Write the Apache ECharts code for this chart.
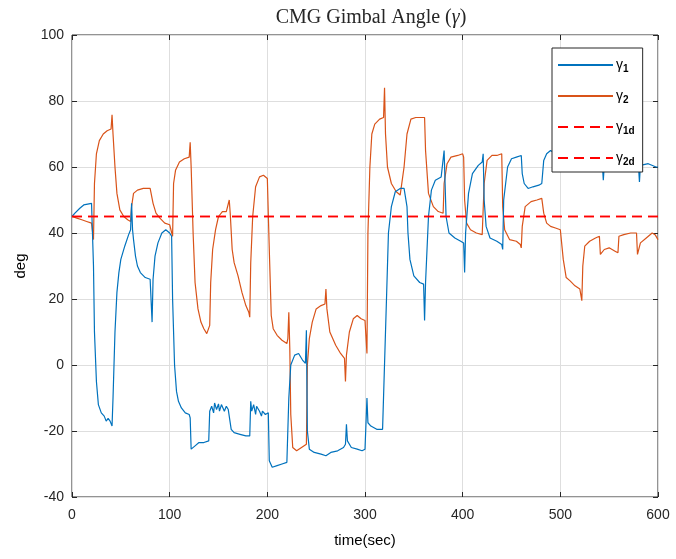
<!DOCTYPE html>
<html>
  <head>
    <meta charset="utf-8" />
    <title>CMG Gimbal Angle</title>
    <script src="https://cdn.jsdelivr.net/npm/echarts@6/dist/echarts.min.js"></script>
    <style>
      html, body { margin: 0; padding: 0; background: #fff; }
      #main { width: 676px; height: 559px; }
    </style>
  </head>
  <body>
    <div id="main"></div>
    <script type="text/javascript">
      // axis ticks
      var xTicks = [0, 100, 200, 300, 400, 500, 600];
      var yTicks = [-40, -20, 0, 20, 40, 60, 80, 100];

      // gamma_1
      var g1Time = [0, 3, 8, 12, 20, 21, 22, 23, 25, 27, 30, 33, 35, 37, 39, 40, 41, 42, 44, 46, 48, 50, 54, 58, 60, 61, 62, 63, 65, 67, 70, 75, 80, 81, 82, 83, 85, 88, 92, 96, 100, 102, 103, 105, 107, 109, 112, 116, 120, 121, 122, 126, 130, 135, 140, 141, 143, 145, 146, 148, 150, 151, 153, 155, 156, 158, 160, 162, 163, 166, 172, 178, 182, 183, 184, 186, 188, 189, 192, 194, 195, 198, 201, 202, 205, 210, 215, 220, 221, 222, 224, 228, 232, 236, 239, 240, 241, 243, 248, 255, 260, 265, 272, 278, 280, 281, 282, 286, 292, 297, 300, 302, 303, 306, 312, 318, 320, 322, 324, 327, 331, 336, 340, 342, 343, 344, 346, 350, 356, 360, 361, 362, 365, 368, 372, 378, 380, 381, 382, 383, 386, 392, 398, 401, 402, 403, 406, 410, 416, 420, 421, 422, 424, 428, 435, 440, 441, 442, 446, 450, 455, 460, 461, 463, 467, 472, 478, 481, 483, 486, 490, 495, 500, 510, 520, 530, 543, 544, 545, 560, 580, 581, 582, 590, 598, 600];
      var g1Deg = [45, 46, 47.5, 48.5, 49, 48.8, 30, 10, -5, -12, -14.5, -15.5, -17, -16.2, -17, -16.5, -18.5, -10, 10, 22, 28, 32, 36, 39.5, 41, 49, 41, 38, 33, 30, 28, 26.5, 26, 26.5, 13, 26, 33, 37, 40, 41, 40, 39, 20, 0, -8, -11, -13, -14.5, -15, -16, -25.5, -24.5, -23.5, -23.5, -23, -14, -12.5, -14.5, -11.5, -13.5, -11.8, -14, -12, -11.5, -14, -12.5, -13.5, -13, -19.5, -20.5, -21, -21.5, -21.5, -11, -14, -12, -15, -12.5, -14, -15.5, -14, -15, -14.5, -29, -31, -30.5, -30, -29.5, -30, -10, 0, 3, 3.5, 1.5, 0.5, 10.5, -20, -25.5, -26.5, -27, -27.5, -26.5, -26, -25, -24, -18, -23, -25, -25.5, -26, -25.5, -10, -17.5, -18.5, -19.5, -19.5, -19.5, 20, 40, 48, 52.5, 53.5, 53.5, 53, 48, 40, 32, 27, 25, 24.5, 13.5, 25, 45, 53, 56, 57, 57.5, 65, 55, 45, 40, 38.5, 37.5, 37, 28, 40, 52, 58, 60.5, 61.5, 64, 50, 42, 38.5, 37.5, 36.5, 35, 50, 60, 62.5, 63, 63.5, 58, 55, 53.5, 54, 54.5, 55, 62, 64, 65, 64, 63, 62, 61.5, 61, 61, 56, 60.5, 60.5, 60.5, 55.5, 60.5, 61, 60, 60];

      // gamma_2
      var g2Time = [0, 5, 10, 15, 20, 21, 22, 23, 25, 28, 32, 36, 40, 41, 42, 44, 46, 49, 53, 57, 60, 61, 63, 67, 73, 80, 82, 83, 86, 90, 95, 100, 102, 103, 104, 106, 110, 115, 120, 121, 122, 124, 126, 129, 132, 135, 138, 140, 141, 142, 144, 147, 150, 154, 158, 160, 161, 162, 164, 166, 170, 174, 178, 181, 182, 183, 185, 188, 192, 196, 200, 201, 202, 204, 206, 210, 215, 220, 221, 222, 223, 224, 226, 230, 235, 240, 241, 243, 246, 250, 255, 259, 260, 261, 264, 270, 275, 279, 280, 281, 284, 288, 292, 296, 300, 301, 302, 303, 305, 307, 310, 315, 319, 320, 321, 323, 327, 332, 336, 338, 340, 343, 347, 352, 358, 361, 362, 365, 370, 375, 380, 381, 384, 388, 395, 400, 401, 402, 404, 408, 414, 420, 421, 422, 425, 430, 435, 440, 441, 443, 448, 455, 459, 460, 461, 464, 470, 476, 481, 483, 486, 490, 495, 500, 502, 503, 506, 510, 515, 520, 521, 522, 523, 525, 530, 536, 540, 541, 545, 550, 556, 559, 560, 565, 572, 578, 579, 582, 588, 594, 597, 600];
      var g2Deg = [45, 44.5, 44, 43.5, 43, 42.5, 38, 55, 64, 68, 70, 71, 71.5, 75.8, 70, 60, 52, 47, 45, 44, 43.5, 48, 52, 53, 53.5, 53.5, 53, 49, 46, 44.5, 43, 42.5, 42, 39, 55, 59, 61.5, 62.5, 63, 67.5, 60, 40, 25, 17, 13, 11, 9.5, 10, 12, 25, 35, 41, 45, 46.5, 46.5, 47, 50, 46, 35, 31, 27, 22, 18, 16, 14.5, 31, 45, 54, 57, 57.5, 56.5, 57, 35, 15, 11, 9, 7.5, 6.5, 8, 16, 5, -15, -25, -26, -25, -24, 0, 8, 13, 17, 18, 18.5, 23, 17, 10, 6, 3.5, 2, -5, 3, 10, 14, 15, 14, 13.5, 13, 3.5, 40, 60, 70, 73, 74.5, 75, 84, 70, 60, 55, 52.5, 51.5, 52, 60, 70, 74.5, 75, 75, 75, 65, 52, 48, 46.5, 46, 55, 61, 63, 63.5, 64, 63, 50, 43, 41, 40, 39.5, 39, 55, 62, 63.5, 63.5, 64, 48, 41, 38, 37.5, 36.5, 35.5, 42, 48, 49.5, 50, 50.5, 46, 43, 42, 41.5, 41, 40.5, 32, 26.5, 25.5, 24, 23, 22.5, 19.5, 30, 36, 37.5, 38.5, 39, 33.5, 35, 35.5, 34.5, 34, 39, 39.5, 40, 40, 33.5, 37, 38.5, 40, 39.5, 38];

      // desired angles
      var refTime = [0, 600];
      var g1dDeg = [45, 45];
      var g2dDeg = [45, 45];

      function pairs(ts, vs) {
        return ts.map(function (t, i) { return [t, vs[i]]; });
      }

      var axisColor = "#262626";
      var gridColor = "#dedede";
      var fontSans = "Arial, 'Liberation Sans', Helvetica, sans-serif";
      var fontSerif = "'Liberation Serif', 'DejaVu Serif', serif";

      var lineBase = { type: "line", showSymbol: false, symbol: "none", animation: false, sampling: null };

      var myChart = echarts.init(document.getElementById("main"), null, { renderer: "canvas" });

      function sideAxis(extra) {
        return Object.assign({
          axisLine: { show: false, onZero: false },
          axisTick: { show: true, inside: true, length: 5, lineStyle: { color: axisColor } },
          axisLabel: { show: false },
          splitLine: { show: false }
        }, extra);
      }

      var option = {
        backgroundColor: "#ffffff",
        animation: false,
        title: {
          text: "{t|CMG Gimbal Angle (}{i|γ}{t|)}",
          left: 366,
          textAlign: "center",
          top: 3,
          textStyle: {
            fontWeight: "normal",
            rich: {
              t: { fontFamily: fontSerif, fontSize: 20, fontWeight: "normal", color: "#262626" },
              i: { fontFamily: fontSerif, fontSize: 20, fontWeight: "normal", fontStyle: "italic", color: "#262626" }
            }
          }
        },
        grid: {
          left: 72, top: 35, width: 586, height: 462,
          show: true, borderColor: axisColor, borderWidth: 1, backgroundColor: "#fff"
        },
        legend: {
          orient: "vertical",
          left: 552, top: 48,
          padding: [10, 8, 5, 5],
          itemGap: 15,
          itemWidth: 55,
          itemHeight: 14,
          backgroundColor: "#fff",
          borderColor: axisColor,
          borderWidth: 1,
          borderRadius: 0,
          itemStyle: { opacity: 0 },
          data: ["g1", "g2", "g1d", "g2d"],
          formatter: function (name) {
            var sub = { g1: "1", g2: "2", g1d: "1d", g2d: "2d" }[name];
            return "{g|γ}{s|" + sub + "}";
          },
          textStyle: {
            padding: [0, 0, 0, -2],
            rich: {
              g: { fontFamily: fontSans, fontSize: 14, color: "#000" },
              s: { fontFamily: fontSans, fontSize: 10, fontWeight: "bold", color: "#000", padding: [8, 0, 0, 0] }
            }
          }
        },
        xAxis: [
          {
            type: "value", min: 0, max: 600, interval: 100,
            name: "time(sec)", nameLocation: "middle", nameGap: 36,
            nameTextStyle: { fontFamily: fontSans, fontSize: 15, color: "#000" },
            axisLine: { show: false, onZero: false },
            axisTick: { show: true, inside: true, length: 5, lineStyle: { color: axisColor } },
            axisLabel: { fontFamily: fontSans, fontSize: 14, color: axisColor, margin: 11,
              formatter: function (v) { return xTicks.indexOf(v) >= 0 ? String(v) : ""; } },
            splitLine: { show: true, lineStyle: { color: gridColor, width: 1 } }
          },
          sideAxis({ type: "value", min: 0, max: 600, interval: 100, position: "top" })
        ],
        yAxis: [
          {
            type: "value", min: -40, max: 100, interval: 20,
            name: "deg", nameLocation: "middle", nameGap: 44, nameRotate: 90,
            nameTextStyle: { fontFamily: fontSans, fontSize: 15, color: "#000" },
            axisLine: { show: false, onZero: false },
            axisTick: { show: true, inside: true, length: 5, lineStyle: { color: axisColor } },
            axisLabel: { fontFamily: fontSans, fontSize: 14, color: axisColor, margin: 8,
              formatter: function (v) { return yTicks.indexOf(v) >= 0 ? String(v) : ""; } },
            splitLine: { show: true, lineStyle: { color: gridColor, width: 1 } }
          },
          sideAxis({ type: "value", min: -40, max: 100, interval: 20, position: "right" })
        ],
        series: [
          Object.assign({}, lineBase, {
            name: "g1", data: pairs(g1Time, g1Deg), z: 3,
            itemStyle: { color: "#0072BD" },
            lineStyle: { color: "#0072BD", width: 1.2 }
          }),
          Object.assign({}, lineBase, {
            name: "g2", data: pairs(g2Time, g2Deg), z: 2,
            itemStyle: { color: "#D95319" },
            lineStyle: { color: "#D95319", width: 1.2 }
          }),
          Object.assign({}, lineBase, {
            name: "g1d", data: pairs(refTime, g1dDeg), z: 4,
            itemStyle: { color: "#FF0000" },
            lineStyle: { color: "#FF0000", width: 1.4, type: [10, 6] }
          }),
          Object.assign({}, lineBase, {
            name: "g2d", data: pairs(refTime, g2dDeg), z: 4,
            itemStyle: { color: "#FF0000" },
            lineStyle: { color: "#FF0000", width: 1.4, type: [10, 6] }
          })
        ]
      };
      myChart.setOption(option);
    </script>
  </body>
</html>
